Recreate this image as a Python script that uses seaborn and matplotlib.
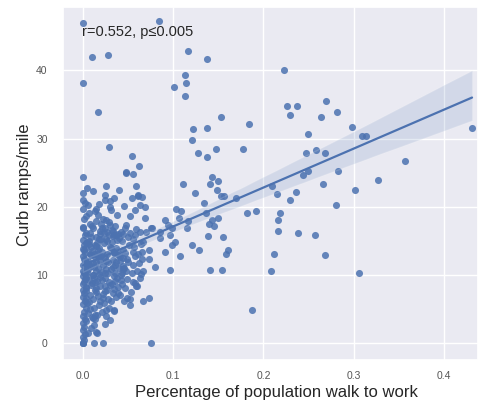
import numpy as np
import pandas as pd
import seaborn as sns
import matplotlib.pyplot as plt

# ---- data (x = share walking to work, y = curb ramps per mile)
walk_top = [0.0, 0.084, 0.0097, 0.0275, 0.0, 0.1165, 0.138, 0.113, 0.114, 0.101, 0.113, 0.0167,
            0.1525, 0.122, 0.137, 0.121, 0.029, 0.127, 0.147, 0.137, 0.0546, 0.062, 0.0475, 0.056,
            0.0, 0.111, 0.1435, 0.150, 0.141, 0.011, 0.0, 0.0256, 0.0397, 0.0586, 0.061, 0.124,
            0.149, 0.1775]
ramps_top = [47.0, 47.2, 41.9, 42.2, 38.2, 42.8, 41.7, 39.3, 38.2, 37.6, 36.2, 33.9,
             33.1, 31.4, 31.6, 29.8, 28.8, 27.9, 28.5, 27.3, 27.5, 26.0, 25.0, 24.8,
             24.3, 23.3, 24.3, 23.8, 23.4, 22.3, 22.0, 23.0, 22.5, 23.0, 21.6, 22.0,
             22.4, 28.5]

walk_right = [0.223, 0.2695, 0.226, 0.237, 0.229, 0.264, 0.282, 0.1845, 0.2985, 0.249, 0.3096,
              0.314, 0.431, 0.2476, 0.2587, 0.268, 0.357, 0.249, 0.244, 0.283, 0.327, 0.266,
              0.2097, 0.2146, 0.2357, 0.229, 0.301, 0.280, 0.182, 0.1915, 0.2186, 0.2157,
              0.216, 0.238, 0.257, 0.212, 0.268, 0.208, 0.3055, 0.187]
ramps_right = [40.0, 35.5, 34.7, 34.7, 33.4, 33.2, 33.9, 32.1, 31.7, 30.6, 30.4,
               30.3, 31.5, 27.9, 28.3, 27.9, 26.7, 25.2, 24.7, 25.2, 23.9, 23.3,
               23.0, 21.8, 22.1, 21.0, 22.5, 20.2, 19.1, 19.4, 19.1, 18.1,
               16.4, 16.1, 15.9, 13.0, 12.9, 10.5, 10.2, 4.9]

walk_mid = [0.1525, 0.156, 0.170, 0.1336, 0.103, 0.109, 0.107, 0.116, 0.115, 0.1366, 0.1496,
            0.143, 0.140, 0.145, 0.1385, 0.1555, 0.091, 0.094, 0.099, 0.0857, 0.097, 0.075,
            0.070, 0.069, 0.069, 0.065, 0.121, 0.129, 0.1017, 0.099, 0.0905, 0.108, 0.161,
            0.159, 0.073, 0.066, 0.080, 0.097, 0.1407, 0.154, 0.067, 0.0646, 0.0727, 0.0665,
            0.075, 0.0765, 0.0857, 0.067, 0.0727, 0.058, 0.060, 0.039, 0.0487]
ramps_mid = [21.6, 21.5, 21.3, 20.6, 19.6, 19.3, 18.4, 17.9, 16.8, 19.0, 18.4,
             18.1, 17.4, 17.1, 15.7, 15.6, 18.1, 17.3, 16.8, 15.4, 15.8, 16.9,
             16.3, 18.4, 20.0, 21.4, 14.4, 13.6, 14.8, 14.4, 13.4, 12.7, 13.6,
             13.1, 12.3, 13.4, 11.1, 10.7, 10.7, 10.7, 10.5, 10.1, 6.6, 6.2,
             0.0, 16.8, 16.3, 14.8, 13.6, 8.8, 8.3, 7.3, 6.6]

walk_zero = [0.0, 0.001, 0.0, 0.002, 0.0, 0.001, 0.0, 0.002, 0.0, 0.001, 0.003, 0.0, 0.002,
             0.0, 0.001, 0.0, 0.003, 0.0, 0.001, 0.002, 0.0, 0.001, 0.0, 0.002, 0.0, 0.003,
             0.001, 0.0, 0.002, 0.0, 0.001, 0.0, 0.002, 0.0, 0.001, 0.0, 0.003, 0.0,
             0.0, 0.0, 0.0125, 0.022, 0.016]
ramps_zero = [0.0, 0.4, 0.9, 1.3, 1.9, 2.4, 2.9, 3.5, 4.0, 4.6, 5.1, 5.7, 6.2,
              6.8, 7.3, 7.7, 8.2, 8.6, 9.0, 9.4, 9.8, 10.2, 10.6, 11.0, 11.4, 11.8,
              12.3, 12.7, 13.2, 13.8, 14.4, 15.1, 15.9, 17.0, 18.2, 19.6, 10.0, 21.0,
              0.0, 0.0, 0.0, 0.0, 1.5]

walk_low = [0.004, 0.006, 0.005, 0.008, 0.004, 0.007, 0.005, 0.009, 0.006, 0.008, 0.004, 0.007,
            0.010, 0.012, 0.011, 0.013, 0.010, 0.012, 0.014, 0.011, 0.013, 0.010, 0.015, 0.012,
            0.016, 0.018, 0.017, 0.019, 0.016, 0.018, 0.017, 0.019, 0.016, 0.018, 0.020, 0.015,
            0.003, 0.009, 0.006, 0.011, 0.014, 0.008, 0.013, 0.017, 0.007, 0.019, 0.012, 0.009,
            0.015, 0.013, 0.011, 0.006, 0.009]
ramps_low = [3.2, 4.4, 5.9, 7.1, 8.0, 9.2, 10.4, 11.3, 12.1, 13.0, 13.9, 15.0,
             3.8, 5.2, 6.5, 7.8, 8.8, 9.6, 10.5, 11.7, 12.6, 13.5, 14.3, 2.6,
             4.1, 5.6, 6.9, 8.3, 9.1, 10.1, 11.0, 12.0, 13.1, 14.0, 15.2, 7.5,
             6.6, 8.5, 10.9, 10.0, 8.1, 5.0, 3.5, 12.7, 14.5, 9.7, 11.2, 12.9,
             1.6, 4.1, 3.6, 1.4, 2.2]

walk_cloud = [0.021, 0.023, 0.022, 0.024, 0.021, 0.025, 0.022, 0.024, 0.021, 0.023,
              0.026, 0.028, 0.027, 0.029, 0.026, 0.028, 0.027, 0.030, 0.026, 0.029,
              0.031, 0.033, 0.032, 0.034, 0.031, 0.033, 0.035, 0.032, 0.036, 0.034,
              0.037, 0.039, 0.038, 0.036, 0.039, 0.037, 0.040, 0.035,
              0.041, 0.043, 0.042, 0.044, 0.041, 0.045, 0.043, 0.046,
              0.047, 0.049, 0.048, 0.050, 0.047, 0.051, 0.052, 0.049,
              0.053, 0.055, 0.054, 0.056, 0.058, 0.057, 0.059,
              0.060, 0.062, 0.061, 0.063, 0.065, 0.064,
              0.026, 0.035, 0.052, 0.030, 0.024]
ramps_cloud = [4.5, 5.9, 7.2, 8.4, 9.3, 10.3, 11.5, 12.4, 13.3, 14.6,
               3.9, 6.4, 7.8, 9.0, 10.8, 11.9, 13.0, 14.1, 15.3, 5.2,
               6.1, 7.4, 8.7, 9.8, 10.9, 12.2, 13.4, 14.8, 11.4, 4.8,
               6.8, 8.2, 9.5, 10.2, 12.9, 14.0, 11.0, 7.9,
               7.0, 8.6, 9.9, 11.3, 12.6, 13.7, 14.9, 6.2,
               8.1, 9.4, 10.6, 11.9, 13.2, 14.4, 6.4, 12.3,
               7.5, 9.0, 10.2, 11.5, 12.8, 14.1, 8.3,
               10.6, 11.8, 13.1, 9.5, 12.3, 14.5,
               4.9, 4.7, 5.6, 3.3, 2.8]

walk_band = [0.004, 0.008, 0.003, 0.011, 0.014, 0.007, 0.019, 0.017, 0.021, 0.027, 0.029,
             0.033, 0.036, 0.040, 0.044, 0.048, 0.052, 0.055, 0.059, 0.030, 0.038, 0.046,
             0.025, 0.005, 0.035, 0.002, 0.0055, 0.018, 0.015, 0.013, 0.0297, 0.0316,
             0.024, 0.048, 0.061, 0.054, 0.0575, 0.063, 0.022, 0.026, 0.020, 0.030,
             0.024, 0.0185, 0.0334, 0.037, 0.0427, 0.0464, 0.052, 0.0575, 0.063,
             0.0, 0.0093, 0.0037, 0.013]
ramps_band = [16.2, 17.4, 18.6, 16.8, 17.9, 19.0, 16.0, 18.8, 16.9, 16.3, 17.8,
              15.7, 17.2, 15.4, 16.0, 17.3, 18.6, 15.2, 16.7, 19.9, 18.8, 20.1,
              21.0, 22.8, 21.2, 20.6, 20.2, 20.4, 19.7, 19.3, 20.8, 19.5,
              21.7, 25.1, 21.7, 21.2, 19.5, 20.2, 18.2, 18.0, 17.5, 17.3,
              16.8, 16.4, 16.5, 15.8, 16.3, 16.8, 16.1, 15.8, 16.3,
              16.8, 15.6, 14.6, 14.4]

walk_dense = [0.002, 0.005, 0.008, 0.011, 0.014, 0.017, 0.020, 0.023, 0.026, 0.029, 0.032,
              0.035, 0.038, 0.041, 0.044,
              0.003, 0.006, 0.009, 0.012, 0.015, 0.018, 0.021, 0.024, 0.027, 0.030, 0.033,
              0.036, 0.039, 0.042, 0.045,
              0.001, 0.004, 0.007, 0.010, 0.013, 0.016, 0.019, 0.022, 0.025, 0.028, 0.031,
              0.034, 0.037, 0.040, 0.043, 0.046, 0.050, 0.055]
ramps_dense = [12.2, 14.8, 16.1, 9.9, 15.6, 13.7, 12.8, 16.1, 12.1, 15.9, 16.6,
               13.2, 15.1, 12.0, 10.8,
               7.6, 11.6, 14.1, 13.0, 11.9, 15.3, 10.4, 9.6, 14.9, 8.5, 11.1,
               9.1, 16.0, 9.2, 12.5,
               13.6, 9.5, 6.0, 17.2, 9.0, 14.6, 6.2, 6.6, 7.6, 10.3, 13.9,
               15.9, 11.9, 13.0, 10.2, 11.0, 15.6, 13.3]

x_ticks = [0.0, 0.1, 0.2, 0.3, 0.4]
y_ticks = [0, 10, 20, 30, 40]
stat_label = "r=0.552, p\u22640.005"

walk = (walk_top + walk_right + walk_mid + walk_zero + walk_low + walk_cloud
        + walk_band + walk_dense)
ramps = (ramps_top + ramps_right + ramps_mid + ramps_zero + ramps_low + ramps_cloud
         + ramps_band + ramps_dense)
df = pd.DataFrame({"walk": walk, "ramps": ramps})

sns.set_theme(style="darkgrid")
plt.rcParams['font.family'] = ['Liberation Sans', 'DejaVu Sans']

W, H = 478, 405
fig = plt.figure(figsize=(W / 100, H / 100), dpi=100)
ax = fig.add_axes([63 / W, 1 - 360 / H, (W - 63) / W, (360 - 7) / H])

sns.regplot(data=df, x="walk", y="ramps", ax=ax, color="#4C72B0",
            scatter_kws=dict(s=26, alpha=0.85, linewidths=0),
            line_kws=dict(lw=1.6))

ax.set_xlim(-0.022, 0.4376)
ax.set_ylim(-2.5, 49.3)
ax.set_xticks(x_ticks)
ax.set_yticks(y_ticks)
ax.set_xlabel("")
ax.set_ylabel("")
ax.tick_params(axis="both", labelsize=7.5, labelcolor="#555555", length=0)
ax.tick_params(axis="y", pad=11)
ax.tick_params(axis="x", pad=8)

ax.text(0.046, 0.93, stat_label, transform=ax.transAxes, ha="left", va="center",
        fontsize=10.5, color="#262626")
fig.text(276 / W, 1 - 393 / H, "Percentage of population walk to work",
         ha="center", va="center", fontsize=12, color="#262626")
fig.text(25 / W, 1 - 185 / H, "Curb ramps/mile", rotation=90,
         ha="center", va="center", fontsize=12, color="#262626")

fig.savefig("out.png", dpi=100)
